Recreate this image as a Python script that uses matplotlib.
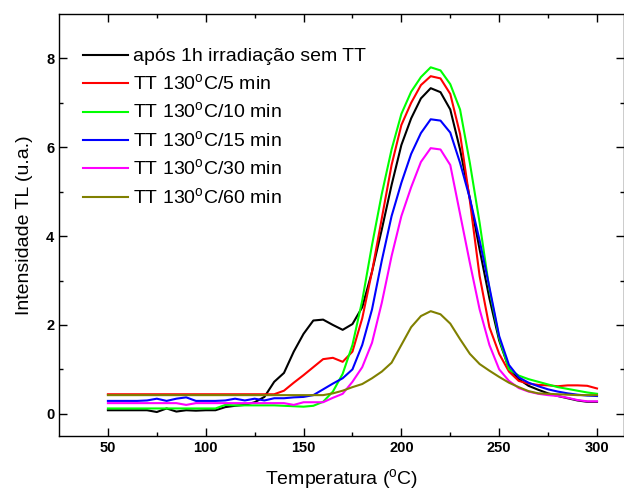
import numpy as np
import matplotlib
matplotlib.use('Agg')
import matplotlib.pyplot as plt

# Fonts (Arial-like)
plt.rcParams['font.family'] = ['Liberation Sans', 'DejaVu Sans']
plt.rcParams['mathtext.fontset'] = 'custom'
plt.rcParams['mathtext.rm'] = 'Liberation Sans'

# Data
temp_C = np.arange(50, 305, 5)

tl_sem_tt = [0.08, 0.08, 0.08, 0.08, 0.08, 0.04, 0.12, 0.05, 0.08, 0.07,
             0.08, 0.08, 0.15, 0.18, 0.20, 0.26, 0.38, 0.72, 0.92, 1.40,
             1.80, 2.10, 2.12, 2.00, 1.89, 2.02, 2.40, 3.20, 4.15, 5.15,
             6.05, 6.65, 7.10, 7.33, 7.24, 6.85, 5.95, 4.85, 3.70, 2.60,
             1.65, 1.02, 0.78, 0.63, 0.54, 0.46, 0.40, 0.35, 0.30, 0.27, 0.27]

tl_5min = [0.44, 0.44, 0.44, 0.44, 0.44, 0.44, 0.44, 0.44, 0.44, 0.44,
           0.44, 0.44, 0.44, 0.44, 0.44, 0.44, 0.44, 0.44, 0.52, 0.70,
           0.87, 1.05, 1.23, 1.26, 1.17, 1.40, 2.15, 3.20, 4.40, 5.60,
           6.50, 7.00, 7.40, 7.60, 7.55, 7.20, 6.30, 4.80, 3.10, 1.95,
           1.35, 0.95, 0.74, 0.68, 0.65, 0.64, 0.62, 0.64, 0.64, 0.63, 0.57]

tl_10min = [0.12, 0.12, 0.12, 0.12, 0.12, 0.12, 0.12, 0.12, 0.12, 0.12,
            0.12, 0.12, 0.20, 0.19, 0.19, 0.19, 0.19, 0.19, 0.18, 0.17,
            0.16, 0.18, 0.27, 0.50, 0.90, 1.55, 2.55, 3.80, 4.95, 5.95,
            6.75, 7.25, 7.58, 7.80, 7.73, 7.42, 6.85, 5.65, 4.30, 2.80,
            1.70, 1.00, 0.86, 0.78, 0.72, 0.66, 0.60, 0.56, 0.52, 0.48, 0.45]

tl_15min = [0.29, 0.29, 0.29, 0.29, 0.30, 0.34, 0.29, 0.34, 0.37, 0.29,
            0.29, 0.29, 0.30, 0.34, 0.30, 0.34, 0.30, 0.35, 0.35, 0.37,
            0.38, 0.42, 0.55, 0.68, 0.80, 1.00, 1.55, 2.35, 3.45, 4.45,
            5.20, 5.85, 6.32, 6.63, 6.60, 6.33, 5.65, 4.85, 3.90, 2.85,
            1.75, 1.10, 0.82, 0.70, 0.62, 0.55, 0.50, 0.46, 0.43, 0.41, 0.40]

tl_30min = [0.24, 0.24, 0.24, 0.24, 0.24, 0.24, 0.24, 0.24, 0.20, 0.24,
            0.24, 0.24, 0.24, 0.24, 0.24, 0.24, 0.24, 0.24, 0.24, 0.20,
            0.26, 0.26, 0.26, 0.36, 0.45, 0.72, 1.05, 1.60, 2.50, 3.55,
            4.45, 5.10, 5.67, 5.98, 5.95, 5.60, 4.50, 3.40, 2.35, 1.55,
            1.00, 0.74, 0.58, 0.50, 0.45, 0.42, 0.40, 0.36, 0.31, 0.28, 0.28]

tl_60min = [0.42, 0.42, 0.42, 0.42, 0.42, 0.42, 0.42, 0.42, 0.42, 0.42,
            0.42, 0.42, 0.42, 0.42, 0.42, 0.42, 0.42, 0.42, 0.42, 0.42,
            0.42, 0.42, 0.42, 0.46, 0.52, 0.60, 0.67, 0.80, 0.95, 1.15,
            1.55, 1.95, 2.20, 2.31, 2.24, 2.03, 1.68, 1.35, 1.12, 0.97,
            0.83, 0.70, 0.60, 0.51, 0.46, 0.45, 0.44, 0.43, 0.42, 0.42, 0.42]

labels = ['após 1h irradiação sem TT',
          r'TT 130$^{\rm o}$C/5 min',
          r'TT 130$^{\rm o}$C/10 min',
          r'TT 130$^{\rm o}$C/15 min',
          r'TT 130$^{\rm o}$C/30 min',
          r'TT 130$^{\rm o}$C/60 min']
colors = ['#000000', '#FF0000', '#00FF00', '#0000FF', '#FF00FF', '#808000']
series = [tl_sem_tt, tl_5min, tl_10min, tl_15min, tl_30min, tl_60min]

# Plotting
fig = plt.figure(figsize=(6.24, 4.98), dpi=100)
ax = fig.add_axes([59/624, 1 - 436/498, (624 - 59)/624, (436 - 14)/498])

for y, lab, c in zip(series, labels, colors):
    ax.plot(temp_C, y, color=c, lw=1.5, label=lab)

ax.set_xlim(25, 313.8)
ax.set_ylim(-0.5, 9.0)
ax.set_xticks([50, 100, 150, 200, 250, 300])
ax.set_xticks(np.arange(75, 313, 50), minor=True)
ax.set_yticks([0, 2, 4, 6, 8])
ax.set_yticks([1, 3, 5, 7], minor=True)

ax.tick_params(which='major', axis='both', direction='in', length=5.5, width=1,
               top=True, right=True, labelsize=10.5)
ax.tick_params(which='minor', axis='both', direction='in', length=3, width=1,
               top=True, right=True)
for lab in ax.get_xticklabels() + ax.get_yticklabels():
    lab.set_fontweight('bold')
for sp in ax.spines.values():
    sp.set_linewidth(1.0)

ax.set_xlabel(r'Temperatura ($^{\rm o}$C)', fontsize=14, labelpad=9)
ax.set_ylabel('Intensidade TL (u.a.)', fontsize=14, labelpad=9)

ax.legend(loc='upper left', bbox_to_anchor=(0.042, 0.92), frameon=False,
          fontsize=14, handlelength=2.35, handletextpad=0.26, labelspacing=0.4,
          borderaxespad=0, borderpad=0)

plt.savefig('out.png', dpi=100)
